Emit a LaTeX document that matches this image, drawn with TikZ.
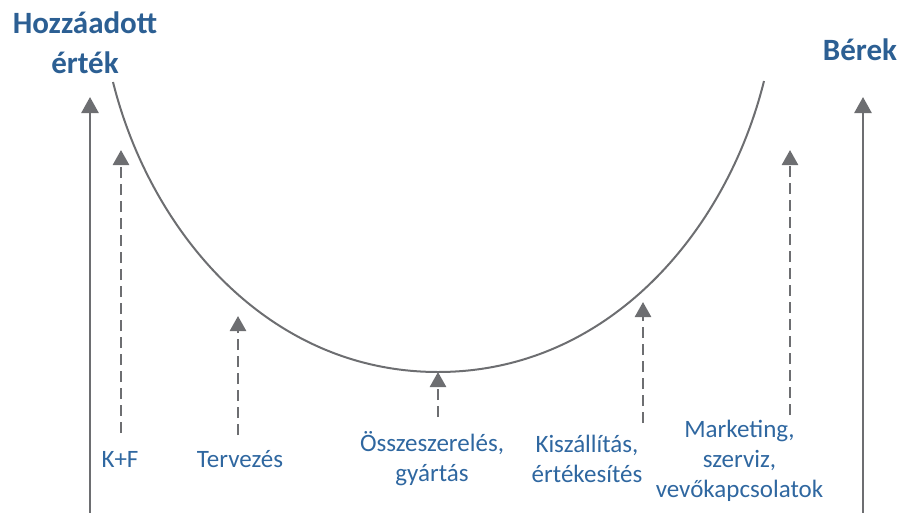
\documentclass[tikz,border=0pt]{standalone}
\usepackage{fontspec}
\setmainfont{Carlito}
\usetikzlibrary{arrows.meta}
\definecolor{titleblue}{HTML}{2C5F93}
\definecolor{labelblue}{HTML}{2F67A0}
\definecolor{linegray}{HTML}{6D6E71}
\tikzset{
  solidarrow/.style={draw=linegray, line width=2.6pt, -{Triangle[length=16pt,width=17pt]}, color=linegray},
  dasharrow/.style={draw=linegray, line width=2.6pt, dash pattern=on 11pt off 6pt, -{Triangle[length=15pt,width=16pt]}, color=linegray},
  curveline/.style={draw=linegray, line width=2pt},
  titletext/.style={text=titleblue, font=\fontsize{31}{40}\selectfont\bfseries, align=center, inner sep=0pt, anchor=base},
  labeltext/.style={text=labelblue, font=\fontsize{25}{30}\selectfont, align=center, inner sep=0pt, anchor=base},
}
\begin{document}
\begin{tikzpicture}[x=1pt,y=-1pt]
\useasboundingbox (0,0) rectangle (903,512);
% titles
\node[titletext] (hozz) at (85,73) {Hozzáadott\\érték};
\node[titletext] (berek) at (860,60) {Bérek};
% axis arrows
\coordinate (la0) at (90,514);
\coordinate (la1) at (90,97);
\coordinate (ra0) at (863,514);
\coordinate (ra1) at (863,97);
\draw[solidarrow] (la0) -- (la1);
\draw[solidarrow] (ra0) -- (ra1);
% curve
\coordinate (ctl) at (113,82);
\coordinate (cbot) at (438,372);
\coordinate (ctr) at (764,81);
\draw[curveline] (ctl) .. controls (150.5,232) and (268,372) .. (cbot)
  .. controls (608,372) and (726.5,232) .. (ctr);
% dashed arrows
\coordinate (kf0) at (121,433);
\coordinate (kf1) at (121,150);
\coordinate (tv0) at (238,435);
\coordinate (tv1) at (238,316);
\coordinate (os0) at (438,417);
\coordinate (os1) at (438,372);
\coordinate (ki0) at (643,423);
\coordinate (ki1) at (643,302);
\coordinate (mk0) at (790,415);
\coordinate (mk1) at (790,150);
\draw[dasharrow] (kf0) -- (kf1);
\draw[dasharrow] (tv0) -- (tv1);
\draw[dasharrow] (os0) -- (os1);
\draw[dasharrow] (ki0) -- (ki1);
\draw[dasharrow] (mk0) -- (mk1);
% labels
\node[labeltext] (kf) at (120,467) {K+F};
\node[labeltext] (tv) at (240,467) {Tervezés};
\node[labeltext] (os) at (432,481) {Összeszerelés,\\gyártás};
\node[labeltext] (ki) at (587,482) {Kiszállítás,\\értékesítés};
\node[labeltext] (mk) at (739.5,497) {Marketing,\\szerviz,\\vevőkapcsolatok};
\end{tikzpicture}
\end{document}
